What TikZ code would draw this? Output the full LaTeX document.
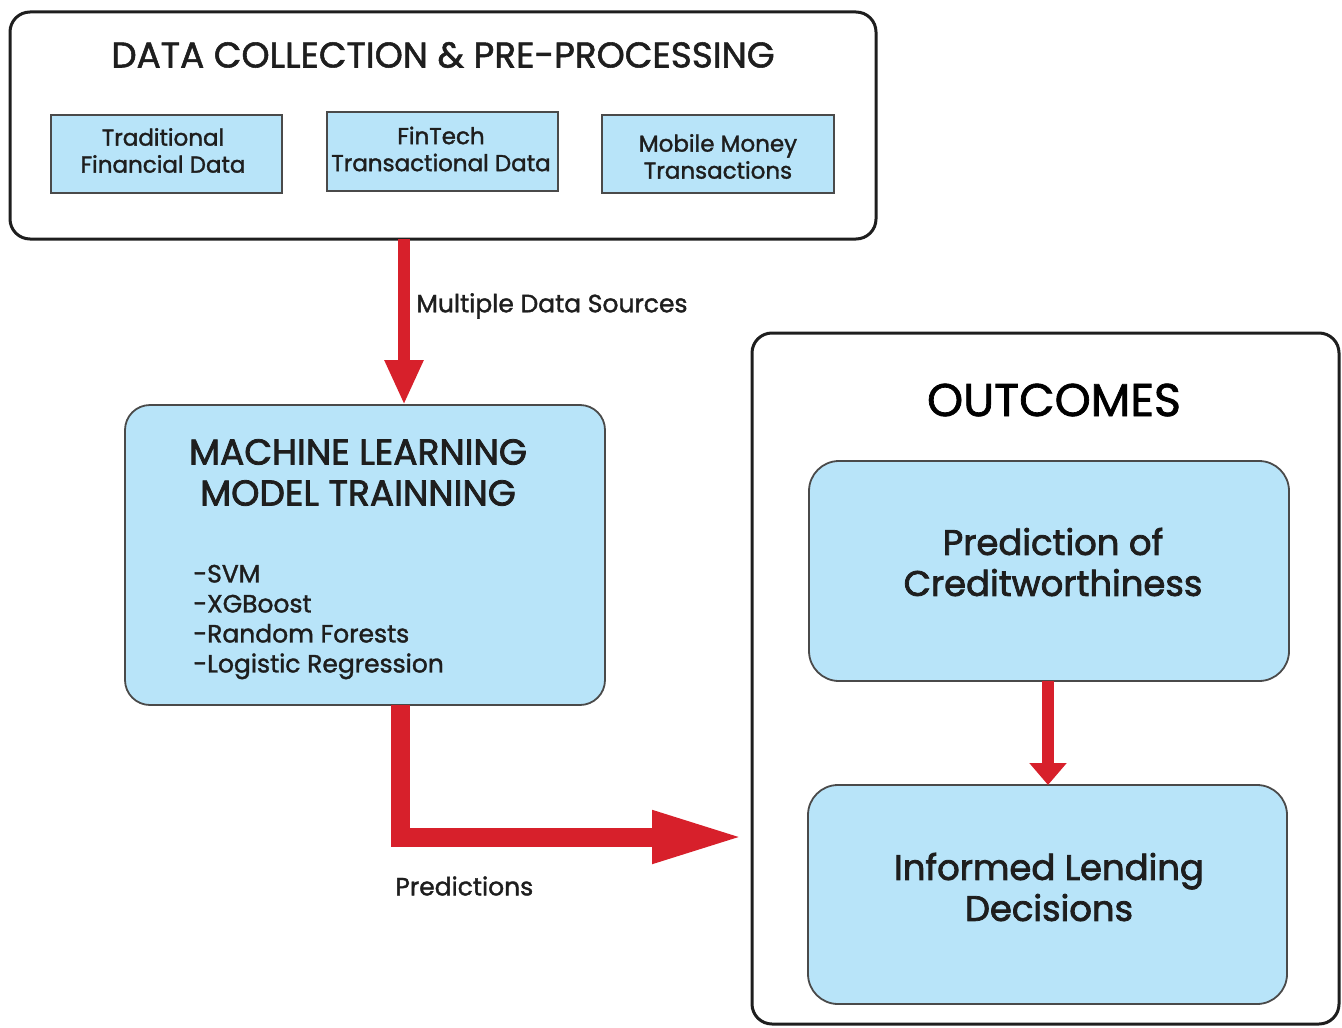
\documentclass[tikz,border=0pt]{standalone}
\usepackage{fontspec}
\setmainfont{Poppins}[FakeBold=1.5]
\newfontfamily\headfont{Poppins}[FakeBold=2.2]
\usetikzlibrary{arrows.meta}
\definecolor{boxblue}{HTML}{B8E4F9}
\definecolor{flowred}{HTML}{D7202B}
\definecolor{edgegray}{HTML}{4A4A4A}
\definecolor{inkdark}{HTML}{1E1E1E}
\tikzset{
  frame/.style={draw=inkdark, line width=1.5pt, rounded corners=10pt, inner sep=0pt, outer sep=0pt},
  srcbox/.style={draw=edgegray, line width=1pt, fill=boxblue, inner sep=0pt, outer sep=0pt},
  srctext/.style={align=center, text=inkdark, inner sep=0pt, font=\fontsize{11.5}{13.5}\selectfont},
  bluebox/.style={draw=edgegray, line width=0.9pt, fill=boxblue, inner sep=0pt, outer sep=0pt},
  bigtext/.style={align=center, text=inkdark, inner sep=0pt, font=\headfont\fontsize{17.7}{20.5}\selectfont},
  caption/.style={text=inkdark, inner sep=0pt, font=\fontsize{12.5}{14}\selectfont},
  flow/.style={draw=flowred, line width=6pt},
}
\begin{document}
\begin{tikzpicture}[x=0.5pt, y=-0.5pt]
\useasboundingbox (0,0) rectangle (1342,1027);

% data collection frame and its three sources
\node[frame, minimum width=433pt, minimum height=113.5pt] (top) at (443,125.5) {};
\node[text=inkdark, font=\fontsize{17.9}{20}\selectfont, inner sep=0pt] (toptitle) at (443,55) {DATA COLLECTION \& PRE-PROCESSING};
\node[srcbox, minimum width=115.5pt, minimum height=39pt] (src1) at (166.5,154) {};
\node[srcbox, minimum width=115.5pt, minimum height=39.5pt] (src2) at (442.5,151.5) {};
\node[srcbox, minimum width=116pt, minimum height=39pt] (src3) at (718,154) {};
\node[srctext] (src1t) at (163,150.5) {Traditional\\Financial Data};
\node[srctext] (src2t) at (441,149) {FinTech\\Transactional Data};
\node[srctext] (src3t) at (718,156.5) {Mobile Money\\Transactions};

% model training block
\node[bluebox, rounded corners=12.5pt, minimum width=240pt, minimum height=150pt] (ml) at (365,555) {};
\node[text=inkdark, align=center, inner sep=0pt, font=\headfont\fontsize{18}{20.5}\selectfont] (mltitle) at (358,472.5) {MACHINE LEARNING\\MODEL TRAINNING};
\node[text=inkdark, align=left, inner sep=0pt, anchor=west, font=\fontsize{12.5}{15}\selectfont] (mllist) at (193,622) {-SVM\\-XGBoost\\-Random Forests\\-Logistic Regression};

% outcomes frame
\node[frame, minimum width=293.5pt, minimum height=345.5pt] (out) at (1045.5,678.5) {};
\node[text=black, font=\fontsize{23}{25}\selectfont, inner sep=0pt] (outtitle) at (1054,400) {OUTCOMES};
\node[bluebox, rounded corners=15pt, minimum width=240pt, minimum height=110pt] (pc) at (1049,571) {};
\node[bigtext] (pct) at (1053,562) {Prediction of\\Creditworthiness};
\node[bluebox, rounded corners=15pt, minimum width=239.5pt, minimum height=109.5pt] (ld) at (1047.5,894.5) {};
\node[bigtext] (ldt) at (1049,887) {Informed Lending\\Decisions};

% connectors
\coordinate (c1) at (404,0);
\draw[flow, -{Triangle[width=18pt,length=22.5pt]}] (c1 |- top.south) -- (c1 |- ml.north);
\node[caption, anchor=west] (lab1) at (416,306) {Multiple Data Sources};

\coordinate (c2) at (400,0);
\coordinate (c3) at (0,837);
\draw[draw=flowred, line width=9.5pt, line join=miter, shorten >=3.5pt,
  -{Triangle[width=24pt,length=46.5pt]}] (c2 |- ml.south) -- (c2 |- c3) -- (out.west |- c3);
\node[caption, anchor=west] (lab2) at (395,886) {Predictions};

\coordinate (c4) at (1048,0);
\draw[flow, -{Triangle[width=18pt,length=11pt]}] (c4 |- pc.south) -- (c4 |- ld.north);
\end{tikzpicture}
\end{document}
